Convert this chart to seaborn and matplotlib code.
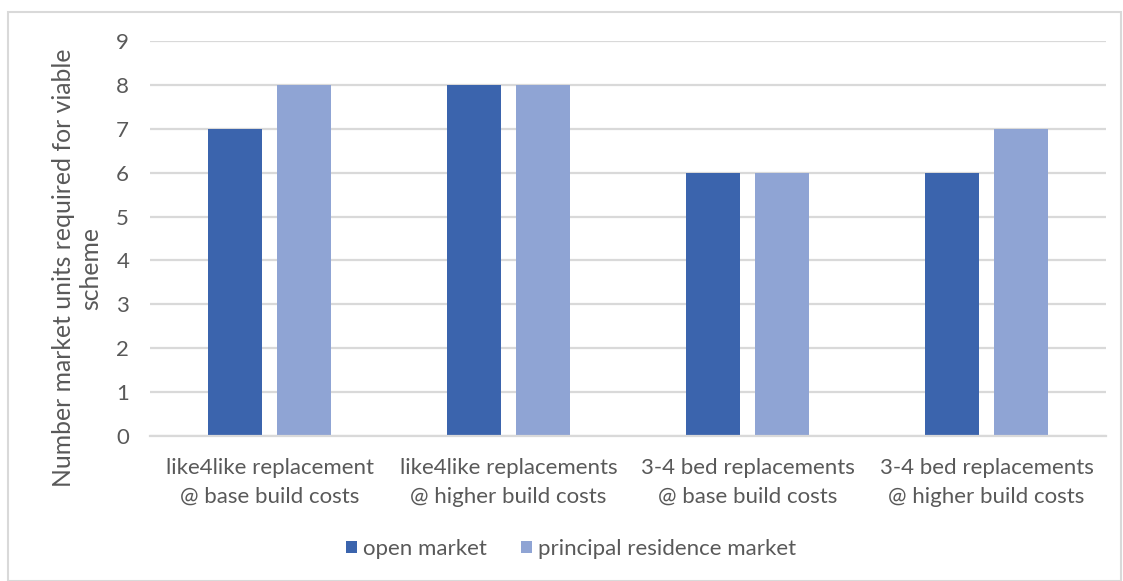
import matplotlib
matplotlib.use("Agg")
import matplotlib.pyplot as plt
import seaborn as sns
import pandas as pd
from matplotlib.patches import Rectangle, Patch

categories = ["like4like replacement\n@ base build costs",
              "like4like replacements\n@ higher build costs",
              "3-4 bed replacements\n@ base build costs",
              "3-4 bed replacements\n@ higher build costs"]
series_names = ["open market", "principal residence market"]
open_market = [7, 8, 6, 6]
principal_residence = [8, 8, 6, 7]
yticks = [0, 1, 2, 3, 4, 5, 6, 7, 8, 9]
ylabel = "Number market units required for viable\nscheme"

colors = ["#3B64AD", "#8FA4D4"]
text_color = "#595959"

sns.set_theme(style="white")
plt.rcParams['font.family'] = ['Lato', 'DejaVu Sans']

df = pd.DataFrame({
    "category": categories * 2,
    "series": [series_names[0]] * 4 + [series_names[1]] * 4,
    "value": open_market + principal_residence,
})

fig = plt.figure(figsize=(11.23, 5.81), dpi=100)
ax = fig.add_axes([150/1123, 1-436/581, (1106-150)/1123, (436-41)/581])

sns.barplot(data=df, x="category", y="value", hue="series", order=categories,
            hue_order=series_names, palette=colors, width=0.572, gap=0.21,
            saturation=1, ax=ax, legend=False, linewidth=0)

ax.set_ylim(0, 9)
ax.set_xlim(-0.5, 3.5)
ax.set_yticks(yticks)
ax.yaxis.grid(True, color="#D9D9D9", linewidth=1.6)
ax.set_axisbelow(True)
for s in ["top", "right", "left"]:
    ax.spines[s].set_visible(False)
ax.spines["bottom"].set_color("#D9D9D9")
ax.spines["bottom"].set_linewidth(1.6)
ax.tick_params(axis="both", length=0, colors=text_color, labelsize=16)
ax.tick_params(axis="y", pad=15)
ax.tick_params(axis="x", pad=16)
ax.set_xlabel("")
ax.set_ylabel(ylabel, color=text_color, fontsize=17.8, linespacing=1.2)
ax.yaxis.label.set_va("center")
ax.yaxis.set_label_coords((77-150)/956, (436-268)/395)
for lbl in ax.get_xticklabels():
    lbl.set_linespacing(1.55)

handles = [Patch(facecolor=c, edgecolor="none") for c in colors]
fig.legend(handles, series_names, loc="center", bbox_to_anchor=(571/1123, 1-549/581),
           ncol=2, frameon=False, fontsize=16, labelcolor=text_color,
           handlelength=0.5, handleheight=0.5, handletextpad=0.3, columnspacing=1.5)

fig.patches.append(Rectangle((8/1123, 0.0), (1121-8)/1123, 1-12/581, transform=fig.transFigure,
                             fill=False, edgecolor="#D9D9D9", linewidth=1.5))

fig.savefig("out.png", dpi=100, facecolor="white")
